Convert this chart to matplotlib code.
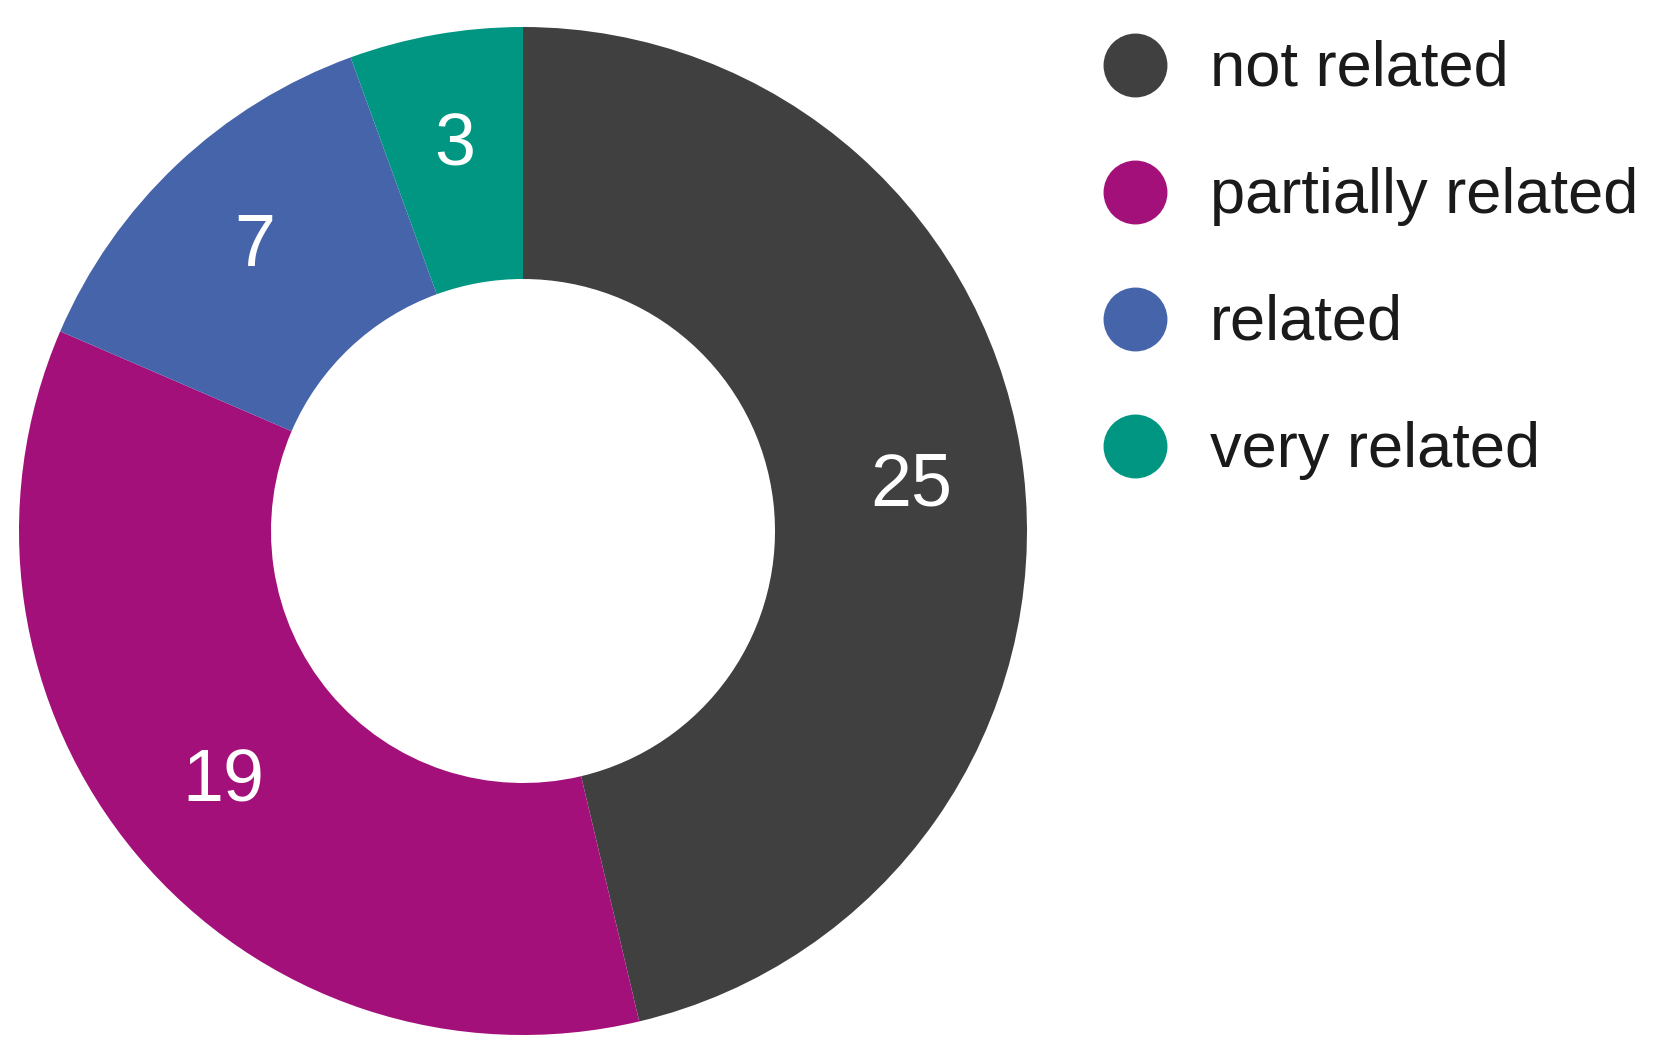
import matplotlib.pyplot as plt
from matplotlib.lines import Line2D

categories = ["not related", "partially related", "related", "very related"]
counts = [25, 19, 7, 3]
colors = ["#404040", "#A3107A", "#4664AA", "#009682"]

plt.rcParams['font.family'] = ['Liberation Sans', 'DejaVu Sans']

W, H = 1653, 1061
fig = plt.figure(figsize=(W / 100, H / 100), dpi=100)

# donut: centre (523, 531) px from top-left, outer radius ~504 px
cx, cy, r = 523, 531, 504
ax = fig.add_axes([(cx - r) / W, (H - cy - r) / H, 2 * r / W, 2 * r / H])
wedges, texts, autotexts = ax.pie(
    counts, colors=colors, startangle=90, counterclock=False, radius=1,
    wedgeprops=dict(width=0.5, linewidth=0),
    autopct=lambda p: f"{round(p * sum(counts) / 100)}", pctdistance=0.775,
    textprops=dict(color="white", fontsize=53))
ax.set_xlim(-1, 1)
ax.set_ylim(-1, 1)
ax.set_aspect("equal")
ax.axis("off")

# legend rows
x_dot, x_txt, y0, step = 1135, 1210, 65, 127
for i, (lab, col) in enumerate(zip(categories, colors)):
    y = y0 + i * step
    fig.add_artist(Line2D([x_dot / W], [1 - y / H], marker="o", markersize=45,
                          color=col, linestyle="none", transform=fig.transFigure))
    fig.text(x_txt / W, 1 - (y + 21) / H, lab, fontsize=45.5, color="#1a1a1a",
             va="baseline", ha="left")

fig.savefig("out.png", dpi=100)
